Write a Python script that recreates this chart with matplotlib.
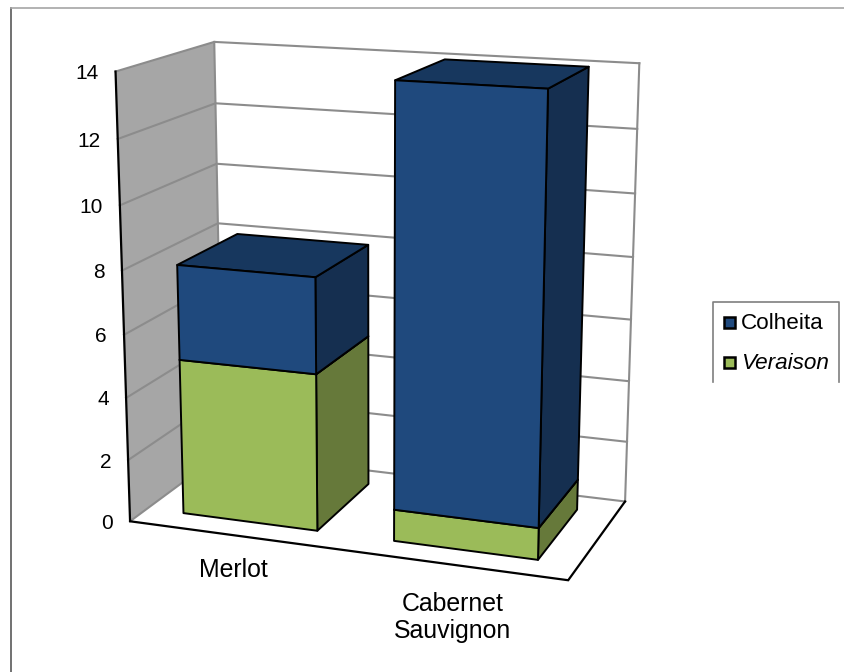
import numpy as np
import matplotlib
matplotlib.use("Agg")
import matplotlib.pyplot as plt
from matplotlib.patches import Polygon, Rectangle

plt.rcParams['font.family'] = ['Liberation Sans', 'DejaVu Sans']

categorias = ["Merlot", "Cabernet\nSauvignon"]
veraison = [5, 1]
colheita = [3, 13]
ticks = [0, 2, 4, 6, 8, 10, 12, 14]
z_max = 14

# caixa 3D: (categoria, profundidade, valor) -> posicao na figura
cantos_3d = [(0, 0, 14), (0, 1, 14), (2, 1, 14), (0, 0, 0), (0, 1, 0), (2, 1, 0), (2, 0, 0)]
cantos_2d = [(115.5, 71.7), (214.3, 41.7), (639.3, 63.3), (130, 520.7),
             (222.5, 453.5), (625, 501), (568.3, 580.7)]


def ajustar_camera(p3, p2):
    linhas, lado = [], []
    for (x, y, z), (u, v) in zip(p3, p2):
        linhas.append([x, y, z, 1, 0, 0, 0, 0, -u * x, -u * y, -u * z])
        linhas.append([0, 0, 0, 0, x, y, z, 1, -v * x, -v * y, -v * z])
        lado += [u, v]
    m = np.linalg.lstsq(np.array(linhas, float), np.array(lado, float), rcond=None)[0]
    return np.append(m, 1).reshape(3, 4)


camera = ajustar_camera(cantos_3d, cantos_2d)


def proj(x, y, z):
    u, v, w = camera @ np.array([x, y, z, 1.0])
    return u / w, v / w


fig = plt.figure(figsize=(8.45, 6.72), dpi=100)
ax = fig.add_axes([0, 0, 1, 1])
ax.set_xlim(0, 845)
ax.set_ylim(672, 0)
ax.axis('off')

cinza = '#8C8C8C'
ax.add_patch(Polygon([proj(0, 0, 0), proj(0, 1, 0), proj(0, 1, z_max), proj(0, 0, z_max)],
                     closed=True, fc='#A6A6A6', ec='none', zorder=1))
for t in ticks:
    a, b, c = proj(0, 0, t), proj(0, 1, t), proj(2, 1, t)
    ax.plot([a[0], b[0], c[0]], [a[1], b[1], c[1]], color=cinza, lw=1.5, zorder=2)
    ax.text(proj(0, 0, t)[0] - 17, proj(0, 0, t)[1] + 2, str(t), ha='right', va='center', fontsize=15, color='black')
for x in (0, 2):
    a, b = proj(x, 1, 0), proj(x, 1, z_max)
    ax.plot([a[0], b[0]], [a[1], b[1]], color=cinza, lw=1.5, zorder=2)

# eixo e chao
pts = [proj(0, 0, z_max), proj(0, 0, 0), proj(2, 0, 0), proj(2, 1, 0)]
ax.plot([p[0] for p in pts], [p[1] for p in pts], color='black', lw=1.6, zorder=3, solid_joinstyle='miter')

largura = 0.322
prof_ini, prof_fim = 0.175, 0.822
cores = [('#9BBB59', '#66793A', '#7C9647'), ('#1F497D', '#152F50', '#17375E')]


def caixa(x0, x1, z0, z1, frente, lado, topo, ordem):
    y0, y1 = prof_ini, prof_fim
    # lateral, topo e frente de cada bloco
    ax.add_patch(Polygon([proj(x1, y0, z0), proj(x1, y1, z0), proj(x1, y1, z1), proj(x1, y0, z1)],
                         closed=True, fc=lado, ec='black', lw=1.4, zorder=ordem, joinstyle='round'))
    ax.add_patch(Polygon([proj(x0, y0, z1), proj(x1, y0, z1), proj(x1, y1, z1), proj(x0, y1, z1)],
                         closed=True, fc=topo, ec='black', lw=1.4, zorder=ordem, joinstyle='round'))
    ax.add_patch(Polygon([proj(x0, y0, z0), proj(x1, y0, z0), proj(x1, y0, z1), proj(x0, y0, z1)],
                         closed=True, fc=frente, ec='black', lw=1.4, zorder=ordem, joinstyle='round'))


for i in range(len(categorias)):
    x0, x1 = i + 0.5 - largura, i + 0.5 + largura
    caixa(x0, x1, 0, veraison[i], *cores[0], 4 + i)
    caixa(x0, x1, veraison[i], veraison[i] + colheita[i], *cores[1], 4.5 + i)
    u, v = proj(i + 0.5, 0, 0)
    ax.text(u, v + 23 + 4 * i, categorias[i], ha='center', va='top', fontsize=17.9, linespacing=1.16)

# moldura da area do grafico
ax.plot([11, 11], [672, 8], color='#595959', lw=1.2, zorder=1)
ax.plot([11, 845], [8, 8], color='#A6A6A6', lw=1.2, zorder=1)

# legenda, cortada em baixo
ax.plot([713, 713, 839, 839], [382, 302, 302, 382], color='#7F7F7F', lw=1.2, zorder=3)
nomes = ["Colheita", "Veraison"]
estilos = ['normal', 'italic']
for i, (nome, est) in enumerate(zip(nomes, estilos)):
    y = 322.4 + 40.4 * i
    ax.add_patch(Rectangle((724.2, y - 5.5), 11, 11, fc=cores[1 - i][0], ec='black', lw=1.8, zorder=3))
    ax.text(741, y + 1, nome, style=est, ha='left', va='center', fontsize=16.2)

fig.savefig('out.png', dpi=100, facecolor='white')
